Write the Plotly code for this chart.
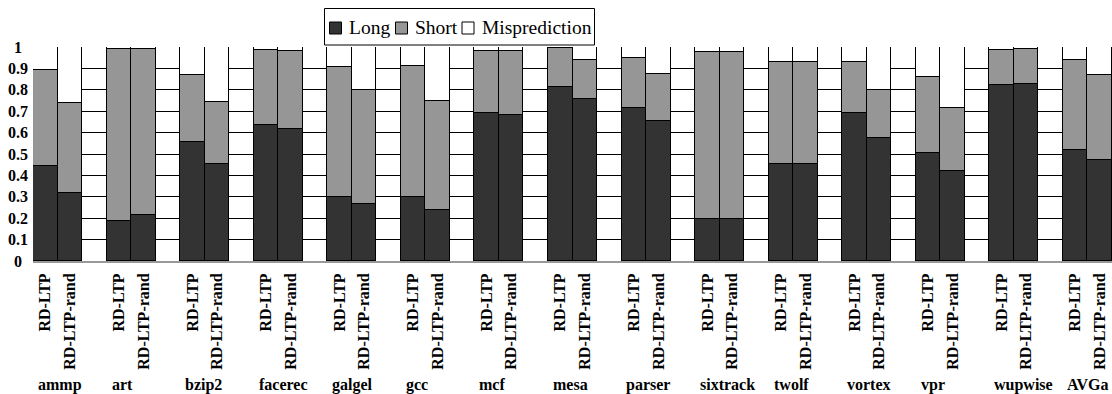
import plotly.graph_objects as go

benchmarks = ["ammp", "art", "bzip2", "facerec", "galgel", "gcc", "mcf", "mesa",
              "parser", "sixtrack", "twolf", "vortex", "vpr", "wupwise", "AVGa"]
configs = ["RD-LTP", "RD-LTP-rand"]

long_ltp = [0.445, 0.187, 0.555, 0.635, 0.298, 0.297, 0.690, 0.811, 0.716, 0.197, 0.451, 0.690, 0.504, 0.822, 0.521]
long_rand = [0.317, 0.217, 0.451, 0.619, 0.267, 0.239, 0.683, 0.755, 0.652, 0.194, 0.454, 0.576, 0.421, 0.825, 0.474]
short_ltp = [0.446, 0.804, 0.315, 0.351, 0.607, 0.614, 0.290, 0.183, 0.234, 0.778, 0.480, 0.238, 0.354, 0.164, 0.418]
short_rand = [0.422, 0.774, 0.290, 0.361, 0.532, 0.510, 0.300, 0.183, 0.222, 0.781, 0.477, 0.223, 0.295, 0.166, 0.396]
mis_ltp = [0.109, 0.009, 0.130, 0.014, 0.095, 0.089, 0.020, 0.006, 0.050, 0.025, 0.069, 0.072, 0.142, 0.014, 0.061]
mis_rand = [0.261, 0.009, 0.259, 0.020, 0.201, 0.251, 0.017, 0.062, 0.126, 0.025, 0.069, 0.201, 0.284, 0.009, 0.130]

y_ticks = [0, 0.1, 0.2, 0.3, 0.4, 0.5, 0.6, 0.7, 0.8, 0.9, 1]
y_tick_text = ["0", "0.1", "0.2", "0.3", "0.4", "0.5", "0.6", "0.7", "0.8", "0.9", "1"]

FONT = "Liberation Serif, Times New Roman, Times, serif"

# figure geometry (page body margin removed in post_script)
W, H = 1112, 394
ML, MR, MT, MB = 33, 0, 47, 133
PW, PH = W - ML - MR, H - MT - MB

def px_x(px):  # page pixel -> paper x
    return (px - ML) / PW

def px_y(py):  # page pixel -> paper y
    return (H - MB - py) / PH

# positions: each group = 2 bars + 1 gap slot
xs, xlabels = [], []
for g in range(len(benchmarks)):
    for i, c in enumerate(configs):
        xs.append(3 * g + i + 0.5)
        xlabels.append("<b>" + c + "</b>")

def interleave(a, b):
    out = []
    for p, q in zip(a, b):
        out += [p, q]
    return out

series = [
    ("Long", interleave(long_ltp, long_rand), "#333333"),
    ("Short", interleave(short_ltp, short_rand), "#969696"),
    ("Misprediction", interleave(mis_ltp, mis_rand), "#ffffff"),
]

fig = go.Figure()
for name, vals, color in series:
    fig.add_trace(go.Bar(
        x=xs, y=vals, name=name, width=1, showlegend=False,
        marker=dict(color=color, line=dict(color="#000000", width=1.5)),
    ))

# group labels
for g, b in enumerate(benchmarks):
    last = g == len(benchmarks) - 1
    fig.add_annotation(
        x=44 if last else 3 * g + 0.12, xshift=-1 if last else 0,
        y=px_y(384.5), xref="x", yref="paper",
        text="<b>" + b + "</b>", showarrow=False,
        xanchor="right" if last else "left", yanchor="middle",
        font=dict(family=FONT, size=16, color="#000"),
    )

# y tick labels (centered column, as in the reference)
for v, t in zip(y_ticks, y_tick_text):
    fig.add_annotation(
        x=px_x(17.5), y=v, xref="paper", yref="y", text="<b>" + t + "</b>",
        showarrow=False, xanchor="center", yanchor="middle",
        font=dict(family=FONT, size=16, color="#000"),
    )

# legend (manual, compact as in the reference)
fig.add_shape(type="rect", xref="paper", yref="paper",
              x0=px_x(324.5), x1=px_x(594.5), y0=px_y(45), y1=px_y(8.5),
              line=dict(color="#000000", width=1), fillcolor="#ffffff", layer="above")
legend_sq = [329.5, 395.5, 462]
legend_tx = [346.5, 412.5, 480]
for (name, _, color), sx, tx in zip(series, legend_sq, legend_tx):
    fig.add_shape(type="rect", xref="paper", yref="paper",
                  x0=px_x(sx), x1=px_x(sx + 12), y0=px_y(34), y1=px_y(22),
                  line=dict(color="#000000", width=1), fillcolor=color, layer="above")
    fig.add_annotation(x=px_x(tx), y=px_y(27.5), xref="paper", yref="paper",
                       text=name, showarrow=False, xanchor="left", yanchor="middle",
                       font=dict(family=FONT, size=19.5, color="#000"))

fig.update_layout(
    width=W, height=H,
    margin=dict(l=ML, r=MR, t=MT, b=MB, autoexpand=False),
    barmode="stack",
    bargap=0,
    plot_bgcolor="#ffffff",
    paper_bgcolor="#ffffff",
    font=dict(family=FONT, color="#000"),
    showlegend=False,
    xaxis=dict(
        range=[0, 44], tickvals=xs, ticktext=xlabels, tickangle=-90,
        tickfont=dict(family=FONT, size=16, color="#000"),
        showgrid=False, zeroline=False, showline=True, linecolor="#999999", linewidth=2,
        ticks="", ticklabelstandoff=4, automargin=False,
    ),
    yaxis=dict(
        range=[0, 1], tickvals=y_ticks, showticklabels=False,
        showgrid=True, gridcolor="#000000", gridwidth=1, zeroline=False,
        showline=False, ticks="", automargin=False,
    ),
)

fig.write_html(
    "out.html",
    config={"displayModeBar": False},
    post_script="document.body.style.margin='0';document.body.style.overflow='hidden';",
)
